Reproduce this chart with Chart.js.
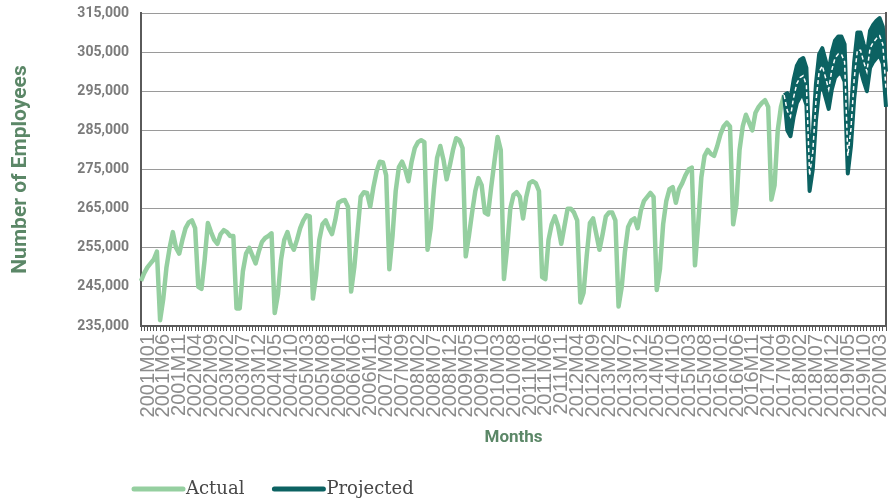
<!DOCTYPE html>
<html>
<head>
<meta charset="utf-8">
<script src="https://cdn.jsdelivr.net/npm/chart.js@4.4.1/dist/chart.umd.min.js"></script>
<style>
  html, body { margin: 0; padding: 0; background: #fff; }
  #wrap { width: 894px; height: 502px; position: relative; }
</style>
</head>
<body>
<div id="wrap"><canvas id="myChart"></canvas></div>
<script>
const GREEN = '#95cfa0';
const TEAL = '#0c6262';
const TITLE_COLOR = '#5b8767';

// months 2001M01 .. 2020M07
const months = [];
for (let y = 2001; y <= 2020; y++) {
    for (let m = 1; m <= 12; m++) {
        if (y === 2020 && m > 7) break;
        months.push(y + 'M' + String(m).padStart(2, '0'));
    }
}

const yTicks = [235000, 245000, 255000, 265000, 275000, 285000, 295000, 305000, 315000];

// actual employees, 2001M01 .. 2017M11
const actual = [
    246500, 248500, 250000, 251000, 252000, 254000, 236500, 242000, 250000, 255000, 259000, 255000,
    253500, 257000, 260000, 261500, 262000, 260000, 245000, 244500, 252000, 261300, 259000, 257000,
    256000, 258500, 259500, 259000, 258000, 258000, 239500, 239500, 249000, 253500, 255000, 253000,
    251000, 254000, 256500, 257500, 258000, 258700, 238300, 243000, 252000, 257000, 259000, 256000,
    254500, 257000, 260000, 262000, 263300, 263000, 242000, 248000, 257000, 261000, 262000, 260000,
    258500, 262000, 266500, 267000, 267200, 265500, 243800, 250000, 259000, 268000, 269200, 269000,
    265500, 270500, 274500, 277000, 276800, 273500, 249500, 258000, 269500, 275600, 277000, 275000,
    272000, 277000, 280500, 282000, 282500, 282000, 254500, 260000, 270000, 278000, 281000, 277500,
    272500, 276000, 280000, 283000, 282500, 280500, 252800, 258000, 264000, 269500, 272800, 271000,
    264000, 263500, 270500, 277000, 283300, 280000, 247000, 255000, 265000, 268500, 269200, 268000,
    262500, 268000, 271500, 272000, 271500, 269500, 247500, 247000, 257000, 261000, 263000, 260500,
    256000, 260500, 265000, 265000, 264000, 262000, 241000, 243500, 253000, 261300, 262500, 258500,
    254500, 258500, 263000, 264000, 264000, 262000, 240000, 245000, 254000, 260300, 262000, 262500,
    260000, 264500, 267000, 268000, 269000, 268000, 244200, 249500, 261000, 267000, 270000, 270500,
    266500, 270000, 271500, 273500, 275000, 275500, 250500, 261000, 273000, 278500, 280000, 279000,
    278500, 281000, 284000, 286000, 287000, 286000, 261000, 266000, 280000, 286000, 289000, 287000,
    285000, 289500, 291000, 292000, 292700, 291000, 267300, 271000, 285000, 291000, 294000
];

// projection, 2017M11 .. 2020M07
const projStart = 202;
const projected = [
    294000, 290000, 288500, 293500, 297000, 298500, 299000, 296500, 273500, 279500, 292500, 300000,
    301500, 298500, 295500, 300500, 303500, 304500, 304500, 302500, 278500, 285500, 298000, 305500,
    305500, 302500, 300000, 306000, 307500, 308500, 309200, 307000, 295500
];
const projectedUpper = [
    294000, 294500, 293000, 298000, 301500, 303000, 303500, 301000, 278000, 284000, 297000, 304500,
    306000, 303000, 300000, 305000, 308000, 309000, 309000, 307000, 283000, 290000, 302500, 310000,
    310000, 307000, 304500, 310500, 312000, 313000, 313700, 311500, 300000
];
const projectedLower = [
    294000, 285000, 283500, 288500, 292000, 293500, 294000, 291500, 269500, 275000, 287500, 295000,
    296500, 293500, 290500, 295500, 298500, 299500, 299500, 297500, 274000, 281000, 293000, 300500,
    300500, 297500, 295000, 301000, 302500, 303500, 304200, 302000, 291000
];

const pad = Array(projStart).fill(null);
const LEGEND_NAMES = ['Actual', 'Projected'];

// legend drawn under the x axis title, left aligned like the original
const legendLine = {
    id: 'legendLine',
    afterDraw(chart) {
        const ctx = chart.ctx;
        ctx.save();
        ctx.font = '18px "DejaVu Serif"';
        ctx.textBaseline = 'middle';
        let x = 132;
        const y = 489;
        chart.data.datasets.forEach(ds => {
            if (!LEGEND_NAMES.includes(ds.label)) return;
            ctx.strokeStyle = ds.borderColor;
            ctx.lineWidth = 5;
            ctx.lineCap = 'round';
            ctx.beginPath();
            ctx.moveTo(x + 2, y);
            ctx.lineTo(x + 51, y);
            ctx.stroke();
            ctx.fillStyle = '#474747';
            ctx.fillText(ds.label, x + 54, y);
            x += 54 + ctx.measureText(ds.label).width + 28;
        });
        ctx.restore();
    }
};

const CHART = document.getElementById('myChart');
const myChart = new Chart(CHART, {
    type: 'line',
    data: {
        labels: months,
        datasets: [
            {
                label: 'Actual',
                data: actual,
                borderColor: GREEN,
                backgroundColor: GREEN,
                borderWidth: 4.5,
                borderJoinStyle: 'round',
                pointRadius: 0,
                tension: 0,
                order: 3
            },
            {
                label: 'Projected',
                data: pad.concat(projectedUpper),
                borderColor: TEAL,
                backgroundColor: TEAL,
                borderWidth: 4,
                borderJoinStyle: 'round',
                pointRadius: 0,
                tension: 0,
                fill: '+1',
                order: 2
            },
            {
                label: 'Lower',
                data: pad.concat(projectedLower),
                borderColor: TEAL,
                backgroundColor: TEAL,
                borderWidth: 4,
                borderJoinStyle: 'round',
                pointRadius: 0,
                tension: 0,
                fill: false,
                order: 2
            },
            {
                label: 'Forecast',
                data: pad.concat(projected),
                borderColor: '#ffffff',
                borderWidth: 1.5,
                borderDash: [4, 3],
                pointRadius: 0,
                tension: 0,
                fill: false,
                order: 0
            }
        ]
    },
    options: {
        responsive: true,
        maintainAspectRatio: false,
        animation: false,
        layout: { padding: { top: 13, bottom: 47, left: 0, right: 0 } },
        plugins: {
            legend: { display: false },
            tooltip: { enabled: false }
        },
        scales: {
            x: {
                type: 'category',
                offset: false,
                afterFit: (scale) => {
                    scale.height = 129;
                    scale.paddingRight = 0;
                    scale.paddingLeft = 0;
                    scale.paddingTop = 0;
                    scale.paddingBottom = 0;
                },
                grid: {
                    drawOnChartArea: false,
                    drawTicks: true,
                    tickLength: 5,
                    tickColor: '#555555'
                },
                border: { color: '#5a5a5a', width: 2 },
                ticks: {
                    autoSkip: false,
                    minRotation: 90,
                    maxRotation: 90,
                    labelOffset: 7,
                    padding: 3,
                    color: '#8c8c8c',
                    font: { family: '"Liberation Sans", Arial, sans-serif', size: 20 },
                    callback: (val, i) => (i % 5 === 0 ? months[i] : '')
                },
                title: {
                    display: true,
                    text: 'Months',
                    color: TITLE_COLOR,
                    font: { family: 'Roboto', size: 17, weight: 'bold' },
                    padding: { top: 0, bottom: 7 }
                }
            },
            y: {
                min: 235000,
                max: 315000,
                afterFit: (scale) => {
                    scale.width = 141;
                    scale.paddingTop = 0;
                    scale.paddingBottom = 0;
                },
                afterBuildTicks: (scale) => { scale.ticks = yTicks.map(v => ({ value: v })); },
                grid: { color: '#9a9a9a', lineWidth: 1, drawTicks: false },
                border: { color: '#5a5a5a', width: 2 },
                ticks: {
                    padding: 12,
                    color: '#7b7b7b',
                    font: { family: 'Roboto', size: 14, weight: 'bold' },
                    callback: (v) => v.toLocaleString('en-US')
                },
                title: {
                    display: true,
                    text: 'Number of Employees',
                    color: TITLE_COLOR,
                    font: { family: 'Roboto', size: 21, weight: 'bold' },
                    padding: { top: 8, bottom: 4 }
                }
            },
            y2: {
                position: 'right',
                min: 235000,
                max: 315000,
                afterFit: (scale) => {
                    scale.width = 8;
                    scale.paddingTop = 0;
                    scale.paddingBottom = 0;
                },
                grid: { drawOnChartArea: false, drawTicks: false },
                border: { color: '#5a5a5a', width: 2 },
                ticks: { display: false }
            }
        }
    },
    plugins: [legendLine]
});
</script>
</body>
</html>
